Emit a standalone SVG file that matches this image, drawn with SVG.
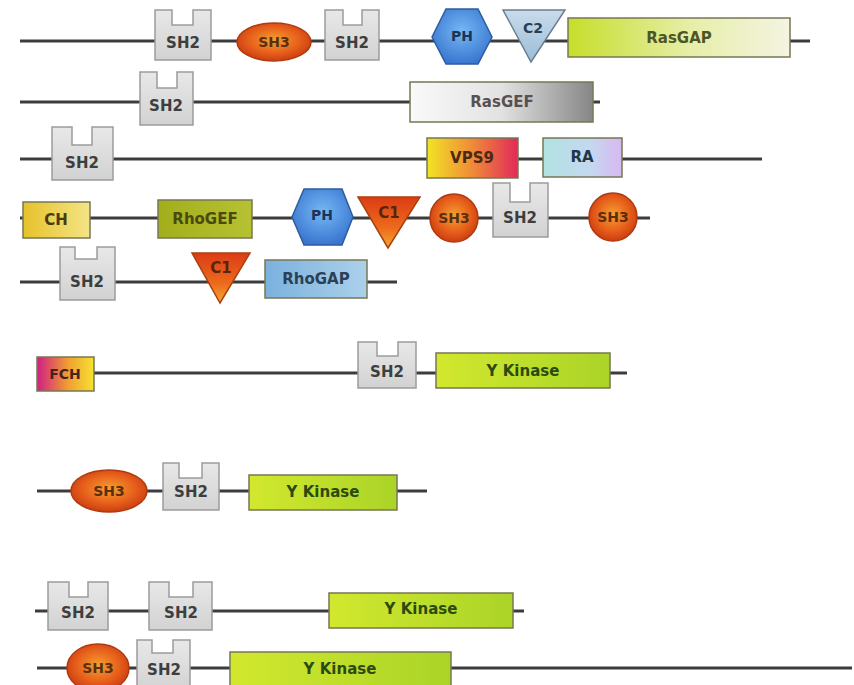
<svg xmlns="http://www.w3.org/2000/svg" width="854" height="685" viewBox="0 0 854 685">
<defs>
<linearGradient id="gSH2" x1="0" y1="0" x2="0" y2="1"><stop offset="0" stop-color="#e8e8e8"/><stop offset="1" stop-color="#d2d2d2"/></linearGradient>
<radialGradient id="gSH3" cx="0.5" cy="0.45" r="0.55"><stop offset="0" stop-color="#f5a030"/><stop offset="0.6" stop-color="#e8621c"/><stop offset="1" stop-color="#cc3e10"/></radialGradient>
<radialGradient id="gPH" cx="0.5" cy="0.4" r="0.6"><stop offset="0" stop-color="#74b8f4"/><stop offset="1" stop-color="#3a76d0"/></radialGradient>
<linearGradient id="gC2" x1="0" y1="0" x2="0" y2="1"><stop offset="0" stop-color="#c8dcec"/><stop offset="1" stop-color="#9cbcd6"/></linearGradient>
<linearGradient id="gC1" x1="0" y1="0" x2="0" y2="1"><stop offset="0" stop-color="#dc3c14"/><stop offset="0.6" stop-color="#ec6a1c"/><stop offset="1" stop-color="#f4a830"/></linearGradient>
<linearGradient id="gRasGAP" x1="0" y1="0" x2="1" y2="0"><stop offset="0" stop-color="#c6de2a"/><stop offset="0.55" stop-color="#e6eea8"/><stop offset="1" stop-color="#f4f4e2"/></linearGradient>
<linearGradient id="gRasGEF" x1="0" y1="0" x2="1" y2="0"><stop offset="0" stop-color="#fafafa"/><stop offset="0.5" stop-color="#e2e2e2"/><stop offset="1" stop-color="#868686"/></linearGradient>
<linearGradient id="gVPS9" x1="0" y1="0" x2="1" y2="0"><stop offset="0" stop-color="#f2e424"/><stop offset="0.5" stop-color="#f08a38"/><stop offset="1" stop-color="#e02a5a"/></linearGradient>
<linearGradient id="gRA" x1="0" y1="0" x2="1" y2="0"><stop offset="0" stop-color="#b2e2e2"/><stop offset="0.6" stop-color="#c4d8f0"/><stop offset="1" stop-color="#d8b8f2"/></linearGradient>
<linearGradient id="gCH" x1="0" y1="0" x2="1" y2="0"><stop offset="0" stop-color="#e6c22a"/><stop offset="1" stop-color="#f4e486"/></linearGradient>
<linearGradient id="gRhoGEF" x1="0" y1="0" x2="1" y2="0"><stop offset="0" stop-color="#a2ae1a"/><stop offset="1" stop-color="#b6c232"/></linearGradient>
<linearGradient id="gRhoGAP" x1="0" y1="0" x2="1" y2="0"><stop offset="0" stop-color="#7ab2de"/><stop offset="1" stop-color="#acd0ea"/></linearGradient>
<linearGradient id="gFCH" x1="0" y1="0" x2="1" y2="0"><stop offset="0" stop-color="#d01e84"/><stop offset="0.55" stop-color="#f0a030"/><stop offset="1" stop-color="#f6e232"/></linearGradient>
<linearGradient id="gYK" x1="0" y1="0" x2="1" y2="0"><stop offset="0" stop-color="#d2e82e"/><stop offset="1" stop-color="#aad428"/></linearGradient>
</defs>
<style>
.bb{stroke:#3c3c3c;stroke-width:3;fill:none}
.sh2{fill:url(#gSH2);stroke:#9c9c9c;stroke-width:1.5}
.sh3{fill:url(#gSH3);stroke:#b03a10;stroke-width:1.5}
.ph{fill:url(#gPH);stroke:#2e5c9e;stroke-width:1.5}
.c2{fill:url(#gC2);stroke:#6a7e90;stroke-width:1.5}
.c1{fill:url(#gC1);stroke:#a84010;stroke-width:1.5}
.box{stroke:#777755;stroke-width:1.5}
text{font-family:"DejaVu Sans","Liberation Sans",sans-serif;font-weight:bold;text-anchor:middle;dominant-baseline:central}
.t2{font-size:15px;fill:#3e3e3e}
.t3{font-size:14px;fill:#5a3010}
.tp{font-size:14px;fill:#1c3458}
.tc{font-size:15px;fill:#5a240a}
.tb{font-size:15px}
</style>
<rect width="854" height="685" fill="#ffffff"/>
<g id="connectors">
<line class="bb" x1="20" y1="41" x2="810" y2="41"/>
<line class="bb" x1="20" y1="102" x2="600" y2="102"/>
<line class="bb" x1="20" y1="159" x2="762" y2="159"/>
<line class="bb" x1="20" y1="218" x2="650" y2="218"/>
<line class="bb" x1="20" y1="282" x2="397" y2="282"/>
<line class="bb" x1="94" y1="373" x2="627" y2="373"/>
<line class="bb" x1="37" y1="491" x2="427" y2="491"/>
<line class="bb" x1="35" y1="611" x2="524" y2="611"/>
<line class="bb" x1="37" y1="668" x2="852" y2="668"/>
</g>
<!-- Row 1 -->
<g id="r1-sh2a"><path class="sh2" d="M155 10H172V25H193V10H211V60H155Z"/><text class="t2" x="183" y="43">SH2</text></g>
<g id="r1-sh3"><ellipse class="sh3" cx="274" cy="42" rx="37" ry="19"/><text class="t3" x="274" y="42">SH3</text></g>
<g id="r1-sh2b"><path class="sh2" d="M325 10H343V25H362V10H379V60H325Z"/><text class="t2" x="352" y="43">SH2</text></g>
<g id="r1-ph"><polygon class="ph" points="432,37 446,9 478,9 492,37 478,64 446,64"/><text class="tp" x="462" y="36">PH</text></g>
<g id="r1-c2"><polygon class="c2" points="503,10 565,10 531,62"/><text class="tp" x="533" y="28" style="fill:#2c3e52">C2</text></g>
<g id="r1-rasgap"><rect class="box" x="568" y="18" width="222" height="39" fill="url(#gRasGAP)"/><text class="tb" x="679" y="38" fill="#4e5628">RasGAP</text></g>
<!-- Row 2 -->
<g id="r2-sh2"><path class="sh2" d="M140 72H157V88H177V72H193V125H140Z"/><text class="t2" x="166" y="106">SH2</text></g>
<g id="r2-rasgef"><rect class="box" x="410" y="82" width="183" height="40" fill="url(#gRasGEF)" stroke="#777"/><text class="tb" x="502" y="102" fill="#5a5050">RasGEF</text></g>
<!-- Row 3 -->
<g id="r3-sh2"><path class="sh2" d="M52 127H72V145H92V127H113V180H52Z"/><text class="t2" x="82" y="163">SH2</text></g>
<g id="r3-vps9"><rect class="box" x="427" y="138" width="91" height="40" fill="url(#gVPS9)"/><text class="tb" x="472" y="158" fill="#4a2a14">VPS9</text></g>
<g id="r3-ra"><rect class="box" x="543" y="138" width="79" height="39" fill="url(#gRA)" stroke="#7a8a9a"/><text class="tb" x="582" y="157" fill="#1e3848">RA</text></g>
<!-- Row 4 -->
<g id="r4-ch"><rect class="box" x="23" y="202" width="67" height="36" fill="url(#gCH)"/><text class="tb" x="56" y="220" fill="#4a3a10">CH</text></g>
<g id="r4-rhogef"><rect class="box" x="158" y="200" width="94" height="38" fill="url(#gRhoGEF)"/><text class="tb" x="205" y="219" fill="#4a4a0e">RhoGEF</text></g>
<g id="r4-ph"><polygon class="ph" points="292,217 304,189 342,189 353,217 342,245 304,245"/><text class="tp" x="322" y="215">PH</text></g>
<g id="r4-c1"><polygon class="c1" points="358,197 420,197 388,248"/><text class="tc" x="389" y="213">C1</text></g>
<g id="r4-sh3a"><circle class="sh3" cx="454" cy="218" r="24"/><text class="t3" x="454" y="218">SH3</text></g>
<g id="r4-sh2"><path class="sh2" d="M493 183H510V202H530V183H548V237H493Z"/><text class="t2" x="520" y="218">SH2</text></g>
<g id="r4-sh3b"><circle class="sh3" cx="613" cy="217" r="24"/><text class="t3" x="613" y="217">SH3</text></g>
<!-- Row 5 -->
<g id="r5-sh2"><path class="sh2" d="M60 247H75V259H97V247H115V300H60Z"/><text class="t2" x="87" y="282">SH2</text></g>
<g id="r5-c1"><polygon class="c1" points="192,253 250,253 220,303"/><text class="tc" x="221" y="268">C1</text></g>
<g id="r5-rhogap"><rect class="box" x="265" y="260" width="102" height="38" fill="url(#gRhoGAP)" stroke="#5a7a9a"/><text class="tb" x="316" y="279" fill="#2c4056">RhoGAP</text></g>
<!-- Row 6 -->
<g id="r6-fch"><rect class="box" x="37" y="357" width="57" height="34" fill="url(#gFCH)"/><text class="tb" x="65" y="374" fill="#4a2020" style="font-size:14px">FCH</text></g>
<g id="r6-sh2"><path class="sh2" d="M358 342H377V356H398V342H416V388H358Z"/><text class="t2" x="387" y="372">SH2</text></g>
<g id="r6-yk"><rect class="box" x="436" y="353" width="174" height="35" fill="url(#gYK)" stroke="#7a9a20"/><text class="tb" x="523" y="371" fill="#2c4a10">Y Kinase</text></g>
<!-- Row 7 -->
<g id="r7-sh3"><ellipse class="sh3" cx="109" cy="491" rx="38" ry="21"/><text class="t3" x="109" y="491">SH3</text></g>
<g id="r7-sh2"><path class="sh2" d="M163 463H179V478H202V463H219V510H163Z"/><text class="t2" x="191" y="492">SH2</text></g>
<g id="r7-yk"><rect class="box" x="249" y="475" width="148" height="35" fill="url(#gYK)" stroke="#7a9a20"/><text class="tb" x="323" y="492" fill="#2c4a10">Y Kinase</text></g>
<!-- Row 8 -->
<g id="r8-sh2a"><path class="sh2" d="M48 582H69V597H88V582H108V630H48Z"/><text class="t2" x="78" y="613">SH2</text></g>
<g id="r8-sh2b"><path class="sh2" d="M149 582H169V597H193V582H212V630H149Z"/><text class="t2" x="181" y="613">SH2</text></g>
<g id="r8-yk"><rect class="box" x="329" y="593" width="184" height="35" fill="url(#gYK)" stroke="#7a9a20"/><text class="tb" x="421" y="609" fill="#2c4a10">Y Kinase</text></g>
<!-- Row 9 -->
<g id="r9-sh3"><ellipse class="sh3" cx="98" cy="668" rx="31" ry="24"/><text class="t3" x="98" y="668">SH3</text></g>
<g id="r9-sh2"><path class="sh2" d="M137 640H152V653H173V640H190V692H137Z"/><text class="t2" x="164" y="670">SH2</text></g>
<g id="r9-yk"><rect class="box" x="230" y="652" width="221" height="40" fill="url(#gYK)" stroke="#7a9a20"/><text class="tb" x="340" y="669" fill="#2c4a10">Y Kinase</text></g>
</svg>
